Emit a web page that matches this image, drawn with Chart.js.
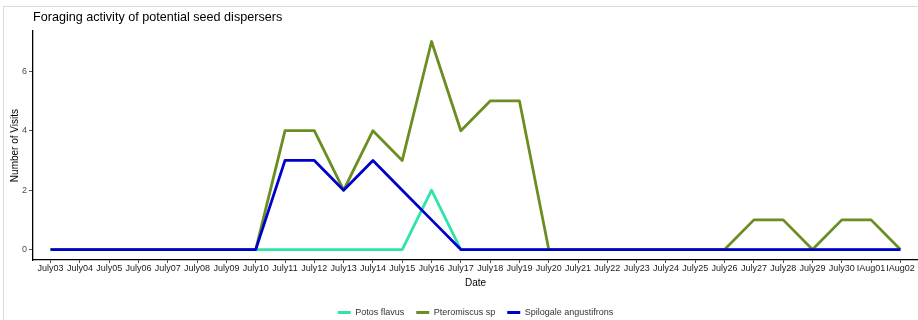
<!DOCTYPE html>
<html>
<head>
<meta charset="utf-8">
<script src="https://cdn.jsdelivr.net/npm/chart.js@4/dist/chart.umd.min.js"></script>
<style>
  html, body { margin: 0; padding: 0; background: #fff; }
  #wrap { position: relative; width: 918px; height: 320px; }
  #frame {
    position: absolute; left: 3px; top: 6px; right: 0; bottom: 0;
    border-top: 1px solid #dcdcd6; border-left: 1px solid #dcdcd6;
    pointer-events: none;
  }
</style>
</head>
<body>
<div id="wrap">
  <canvas id="visitsChart" width="918" height="320"></canvas>
  <div id="frame"></div>
</div>
<script>
// Tanggal pengamatan
const dates = [
  "July03", "July04", "July05", "July06", "July07", "July08", "July09", "July10",
  "July11", "July12", "July13", "July14", "July15", "July16", "July17", "July18",
  "July19", "July20", "July21", "July22", "July23", "July24", "July25", "July26",
  "July27", "July28", "July29", "July30", "IAug01", "IAug02",
];

// Jumlah kunjungan per spesies
const potosFlavus = [0, 0, 0, 0, 0, 0, 0, 0, 0, 0, 0, 0, 0, 2, 0, 0, 0, 0, 0, 0, 0, 0, 0, 0, 0, 0, 0, 0, 0, 0];
const pteromiscusSp = [0, 0, 0, 0, 0, 0, 0, 0, 4, 4, 2, 4, 3, 7, 4, 5, 5, 0, 0, 0, 0, 0, 0, 0, 1, 1, 0, 1, 1, 0];
const spilogaleAngustifrons = [0, 0, 0, 0, 0, 0, 0, 0, 3, 3, 2, 3, 2, 1, 0, 0, 0, 0, 0, 0, 0, 0, 0, 0, 0, 0, 0, 0, 0, 0];

const yTicks = [0, 2, 4, 6];

const toPoints = (arr) => arr.map((v, i) => ({ x: i, y: v }));

const FONT = "'Liberation Sans', Arial, sans-serif";

function lineSet(label, values, color, order) {
  return {
    label: label,
    data: toPoints(values),
    borderColor: color,
    backgroundColor: color,
    borderWidth: 2.8,
    borderJoinStyle: "round",
    pointRadius: 0,
    pointHoverRadius: 0,
    tension: 0,
    order: order, // biru digambar paling atas
  };
}

const ctx = document.getElementById("visitsChart").getContext("2d");

new Chart(ctx, {
  type: "line",
  data: {
    datasets: [
      lineSet("Potos flavus", potosFlavus, "#30e3ad", 2),
      lineSet("Pteromiscus sp", pteromiscusSp, "#6b8e23", 1),
      lineSet("Spilogale angustifrons", spilogaleAngustifrons, "#0000cd", 0),
    ],
  },
  options: {
    responsive: false,
    animation: false,
    layout: { padding: { left: 0, right: 0, top: 0, bottom: -7 } },
    plugins: {
      tooltip: { enabled: false },
      title: {
        display: true,
        text: "Foraging activity of potential seed dispersers",
        align: "start",
        fullSize: false,
        color: "#000",
        font: { family: FONT, size: 12.6, weight: "normal" },
        padding: { top: 10, bottom: 6 },
      },
      legend: {
        position: "bottom",
        fullSize: false,
        labels: {
          boxWidth: 13,
          boxHeight: 3,
          padding: 12,
          color: "#333",
          font: { family: FONT, size: 9 },
          sort: (a, b) => a.datasetIndex - b.datasetIndex,
          generateLabels: (chart) =>
            Chart.defaults.plugins.legend.labels
              .generateLabels(chart)
              .map((item) => ({ ...item, lineWidth: 0 })),
        },
      },
    },
    scales: {
      x: {
        type: "linear",
        min: -0.6,
        max: dates.length - 1 + 0.6,
        afterBuildTicks: (scale) => {
          scale.ticks = dates.map((d, i) => ({ value: i }));
        },
        afterFit: (scale) => {
          scale.height = 36;
        },
        ticks: {
          autoSkip: false,
          maxRotation: 0,
          padding: 0,
          color: "#1a1a1a",
          font: { family: FONT, size: 9 },
          callback: (v) => dates[v],
        },
        grid: {
          display: true,
          drawOnChartArea: false,
          drawTicks: true,
          tickLength: 3,
          color: "#555",
        },
        border: { display: true, color: "#000", width: 1.3 },
        title: {
          display: true,
          text: "Date",
          color: "#000",
          font: { family: FONT, size: 10 },
          padding: { top: 0, bottom: 7 },
        },
      },
      y: {
        type: "linear",
        min: -0.35,
        max: 7.35,
        afterBuildTicks: (scale) => {
          scale.ticks = yTicks.map((v) => ({ value: v }));
        },
        afterFit: (scale) => {
          scale.width = 33;
        },
        ticks: {
          padding: 2,
          color: "#4d4d4d",
          font: { family: FONT, size: 9 },
        },
        grid: {
          display: true,
          drawOnChartArea: false,
          drawTicks: true,
          tickLength: 4,
          color: "#555",
        },
        border: { display: true, color: "#000", width: 1.3 },
        title: {
          display: true,
          text: "Number of Visits",
          color: "#000",
          font: { family: FONT, size: 10 },
          padding: { top: 9, bottom: 0 },
        },
      },
    },
  },
});
</script>
</body>
</html>
